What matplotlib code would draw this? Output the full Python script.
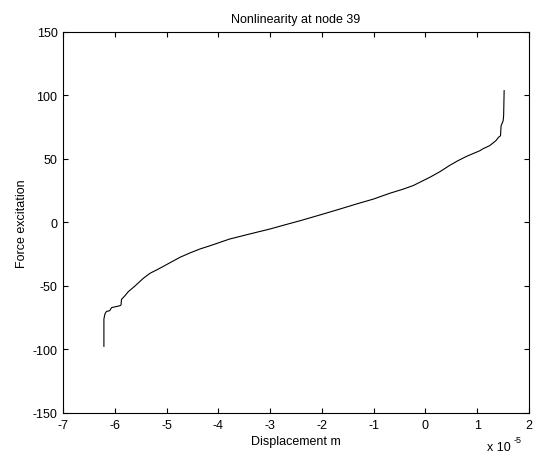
import matplotlib
matplotlib.use('Agg')
import matplotlib.pyplot as plt

# displacement in units of 1e-5 m, force excitation
disp_e5 = [-6.21, -6.21, -6.19, -6.16, -6.10, -6.06, -5.95, -5.90, -5.88, -5.87,
           -5.80, -5.74, -5.61, -5.45, -5.32, -5.15, -4.93, -4.74, -4.55, -4.35,
           -4.16, -3.78, -3.39, -3.00, -2.62, -2.42, -2.04, -1.70, -1.33, -1.00,
           -0.69, -0.45, -0.24, 0.085, 0.28, 0.47, 0.62, 0.79, 1.05, 1.11, 1.24,
           1.36, 1.41, 1.45, 1.46, 1.49, 1.50, 1.51, 1.52]
force = [-97.5, -76.0, -72.0, -70.0, -69.5, -67.0, -66.0, -65.5, -65.0, -60.5,
         -57.5, -54.5, -50.0, -44.0, -40.0, -36.5, -31.6, -27.4, -24.0, -20.8,
         -18.3, -13.0, -9.0, -5.1, -0.8, 1.4, 5.9, 10.0, 14.6, 18.5,
         23.0, 26.0, 29.0, 35.6, 40.0, 45.0, 48.5, 52.0, 56.5, 58.0, 60.5,
         64.4, 67.0, 68.3, 76.0, 79.0, 80.0, 84.0, 103.8]

xticks = [-7, -6, -5, -4, -3, -2, -1, 0, 1, 2]
yticks = [-150, -100, -50, 0, 50, 100, 150]

plt.rcParams['font.family'] = ['Liberation Sans', 'DejaVu Sans']
plt.rcParams['font.size'] = 9
plt.rcParams['axes.unicode_minus'] = False

fig = plt.figure(figsize=(5.33, 4.6), dpi=100)
ax = fig.add_axes([0.1182, 0.1, 0.8743, 0.8283])
ax.plot(disp_e5, force, color='black', linewidth=0.8)

ax.set_xlim(-7, 2)
ax.set_ylim(-150, 150)
ax.set_xticks(xticks)
ax.set_yticks(yticks)
ax.tick_params(direction='in', length=3.5, width=0.8, top=True, right=True, pad=4)
for s in ax.spines.values():
    s.set_linewidth(0.8)

ax.set_title('Nonlinearity at node 39', fontsize=9, pad=7)
ax.set_xlabel('Displacement m', labelpad=3)
ax.set_ylabel('Force excitation', labelpad=3)
fig.text(0.913, 0.012, 'x 10', fontsize=9, ha='left', va='bottom')
fig.text(0.963, 0.032, '-5', fontsize=6.5, ha='left', va='bottom')

fig.savefig('out.png', dpi=100)
